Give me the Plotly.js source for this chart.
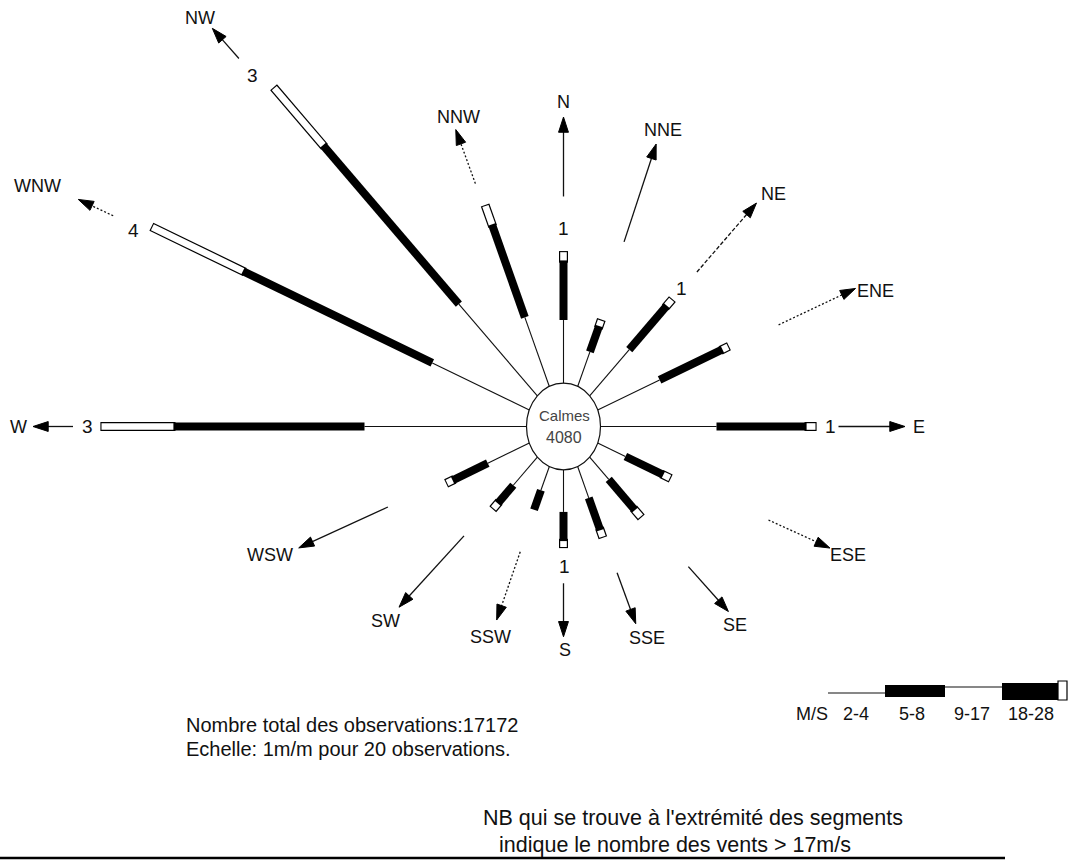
<!DOCTYPE html>
<html>
<head>
<meta charset="utf-8">
<script src="https://cdn.plot.ly/plotly-3.0.1.min.js"></script>
<style>html,body{margin:0;padding:0;background:#fff;}#chart{width:1071px;height:864px;}</style>
</head>
<body>
<div id="chart"></div>
<script>
// ---------- DATA (segment lengths in drawing units, 1 unit ~ 1 px horizontally) ----------
const directions = ['N','NNE','NE','ENE','E','ESE','SE','SSE','S','SSW','SW','WSW','W','WNW','NW','NNW'];
const lightLen = [54, 32, 56, 67, 116, 30, 27, 29, 36, 22, 34, 45, 162, 105, 111, 64];   // thin line part
const barLen   = [50, 23, 52, 67, 89, 40, 36, 29, 24, 18, 21, 37, 190, 204, 191, 85];   // black bar part
const tipLen   = [8, 6, 8, 7, 10, 8, 9, 7, 6, 0, 7, 7, 73, 99, 70, 18];                // white tip part
const strongWinds = [1, null, 1, null, 1, null, null, null, 1, null, null, null, 3, 4, 3, null]; // > 17 m/s
const calmCount = 4080;
const totalObs = 17172;
const legendClasses = ['2-4', '5-8', '9-17', '18-28'];

// ---------- LAYOUT HELPERS (positions only) ----------
const labelR   = [277, 272, 289, 333, 355, 305, 241, 199, 191, 194, 244, 313, 545, 565, 504, 285];
const labelAng = [0, 21.5, 46.5, 69.6, 90, 111.1, 134.7, 155.3, 179.5, 202.2, 227, 249.5, 270, 291.3, 313.8, 338.3];
const arrowR0  = [196.6, 169, 187.7, 232, 275, 220, 173, 136, 134, 115.5, 136.5, 188.6, 490.5, 485, 452, 225.5];
const arrowR1  = [264.5, 258.6, 271.5, 315, 341.5, 286, 228.5, 183.4, 179.7, 178.4, 225.6, 284.4, 530.5, 522.6, 489, 275.7];
const arrowAng = [0, 21, 45.3, 68, 90, 111.3, 133.8, 156.8, 180, 202, 226.8, 248.6, 270, 291.8, 314.1, 337];
const arrowDash= ['solid','solid','4px,2px','2px,2px','solid','2px,2px','solid','solid','solid','2px,2px','solid','solid','solid','2px,2px','solid','2px,2px'];
const numR     = [169.4, null, 167, null, 266.5, null, null, null, 119.8, null, null, null, 476.5, 462, 432, null];
const numAng   = [0, 0, 45, 0, 90, 0, 0, 0, 179.5, 0, 0, 0, 270, 291.3, 314, 0];

const W = 1071, H = 864, CX = 563.5, CY = 426.5, SY = 1.17, R0 = 37;
function pol(r, a) { const t = a * Math.PI / 180; return [r * Math.sin(t), r * Math.cos(t)]; }
function pxPerUnit(a) { const t = a * Math.PI / 180; return Math.sqrt(Math.pow(Math.sin(t),2) + Math.pow(SY*Math.cos(t),2)); }
const px = x => x / W, py = y => 1 - y / H;
const ink = '#111';
const FONT = 'Liberation Sans, Arial, sans-serif';

const traces = [];
function segTrace(widthPx, color, r0fn, r1fn) {
  const xs = [], ys = [];
  directions.forEach((d, i) => {
    const a = i * 22.5;
    const r0 = r0fn(i, a), r1 = r1fn(i, a);
    if (r1 <= r0) return;
    const p0 = pol(r0, a), p1 = pol(r1, a);
    xs.push(p0[0], p1[0], null); ys.push(p0[1], p1[1], null);
  });
  return {type:'scatter', mode:'lines', x:xs, y:ys, line:{color:color, width:widthPx}, hoverinfo:'skip', showlegend:false};
}
// thin line
traces.push(segTrace(1.1, ink, (i)=>R0, (i)=>R0 + lightLen[i]));
// black bar
traces.push(segTrace(8, '#000', (i)=>R0 + lightLen[i], (i)=>R0 + lightLen[i] + barLen[i]));
// white tip: outline then fill
traces.push(segTrace(9, '#000', (i)=>R0 + lightLen[i] + barLen[i] - (tipLen[i]>0?1:0),
  (i,a)=> tipLen[i]>0 ? R0 + lightLen[i] + barLen[i] + tipLen[i] + 1.1/pxPerUnit(a) : 0));
traces.push(segTrace(6.6, '#fff', (i,a)=>R0 + lightLen[i] + barLen[i] + 1.1/pxPerUnit(a),
  (i)=> tipLen[i]>0 ? R0 + lightLen[i] + barLen[i] + tipLen[i] : 0));

// direction arrows
directions.forEach((d, i) => {
  const p0 = pol(arrowR0[i], arrowAng[i]), p1 = pol(arrowR1[i], arrowAng[i]);
  traces.push({type:'scatter', mode:'lines+markers', x:[p0[0], p1[0]], y:[p0[1], p1[1]],
    line:{color:ink, width:1.3, dash:arrowDash[i]},
    marker:{symbol:'arrow', size:[0, 16], angleref:'previous', color:'#000', opacity:1,
            line:{color:'#000', width:1}},
    hoverinfo:'skip', showlegend:false});
});

const annotations = [];
directions.forEach((d, i) => {
  const p = pol(labelR[i], labelAng[i]);
  annotations.push({x:p[0], y:p[1], xref:'x', yref:'y', text:d, showarrow:false,
    xanchor:'center', yanchor:'middle', font:{family:FONT, size:18, color:ink}});
  if (strongWinds[i] !== null) {
    const q = pol(numR[i], numAng[i]);
    annotations.push({x:q[0], y:q[1], xref:'x', yref:'y', text:String(strongWinds[i]), showarrow:false,
      xanchor:'center', yanchor:'middle', font:{family:FONT, size:19, color:ink}});
  }
});
annotations.push({x:1, y:9.8, xref:'x', yref:'y', text:'Calmes', showarrow:false, xanchor:'center', yanchor:'middle',
  font:{family:FONT, size:15, color:'#444'}});
annotations.push({x:0, y:-9, xref:'x', yref:'y', text:String(calmCount), showarrow:false, xanchor:'center', yanchor:'middle',
  font:{family:FONT, size:16, color:'#444'}});

// bottom notes
const note = (x, y, t, size) => annotations.push({x:px(x), y:py(y), xref:'paper', yref:'paper', text:t, showarrow:false,
  xanchor:'left', yanchor:'middle', font:{family:FONT, size:size, color:ink}});
note(184, 725, 'Nombre total des observations:' + totalObs, 20);
note(184, 749, 'Echelle: 1m/m pour 20 observations.', 20);
note(481, 818, "NB qui se trouve à l'extrémité des segments", 21.5);
note(497, 845, 'indique le nombre des vents > 17m/s', 21.5);

// legend
const legX = [856, 912, 972, 1031];
annotations.push({x:px(812), y:py(714), xref:'paper', yref:'paper', text:'M/S', showarrow:false, xanchor:'center', yanchor:'middle',
  font:{family:FONT, size:18, color:ink}});
legendClasses.forEach((c, i) => annotations.push({x:px(legX[i]), y:py(714), xref:'paper', yref:'paper', text:c, showarrow:false,
  xanchor:'center', yanchor:'middle', font:{family:FONT, size:18, color:ink}}));

const shapes = [
  {type:'circle', xref:'x', yref:'y', x0:-R0, x1:R0, y0:-R0, y1:R0, line:{color:ink, width:1.2}, fillcolor:'rgba(0,0,0,0)'},
  {type:'line', xref:'paper', yref:'paper', x0:0, x1:px(1005), y0:py(858), y1:py(858), line:{color:'#000', width:2.5}},
  {type:'line', xref:'paper', yref:'paper', x0:px(828), x1:px(885), y0:py(693), y1:py(693), line:{color:ink, width:1.2}},
  {type:'rect', xref:'paper', yref:'paper', x0:px(885), x1:px(945), y0:py(697), y1:py(685), fillcolor:'#000', line:{width:0}},
  {type:'line', xref:'paper', yref:'paper', x0:px(945), x1:px(1002), y0:py(687), y1:py(687), line:{color:ink, width:1.2}},
  {type:'rect', xref:'paper', yref:'paper', x0:px(1002), x1:px(1058), y0:py(700), y1:py(683), fillcolor:'#000', line:{width:0}},
  {type:'rect', xref:'paper', yref:'paper', x0:px(1058), x1:px(1067), y0:py(700), y1:py(681), fillcolor:'#fff', line:{color:'#000', width:1.2}}
];

const layout = {
  width: W, height: H, margin:{l:0, r:0, t:0, b:0, pad:0},
  paper_bgcolor:'#fff', plot_bgcolor:'#fff', showlegend:false, hovermode:false,
  xaxis:{range:[-CX, W - CX], visible:false, fixedrange:true},
  yaxis:{range:[-(H - CY)/SY, CY/SY], visible:false, fixedrange:true},
  annotations: annotations, shapes: shapes
};
Plotly.newPlot('chart', traces, layout, {staticPlot:true, displayModeBar:false});
</script>
</body>
</html>
